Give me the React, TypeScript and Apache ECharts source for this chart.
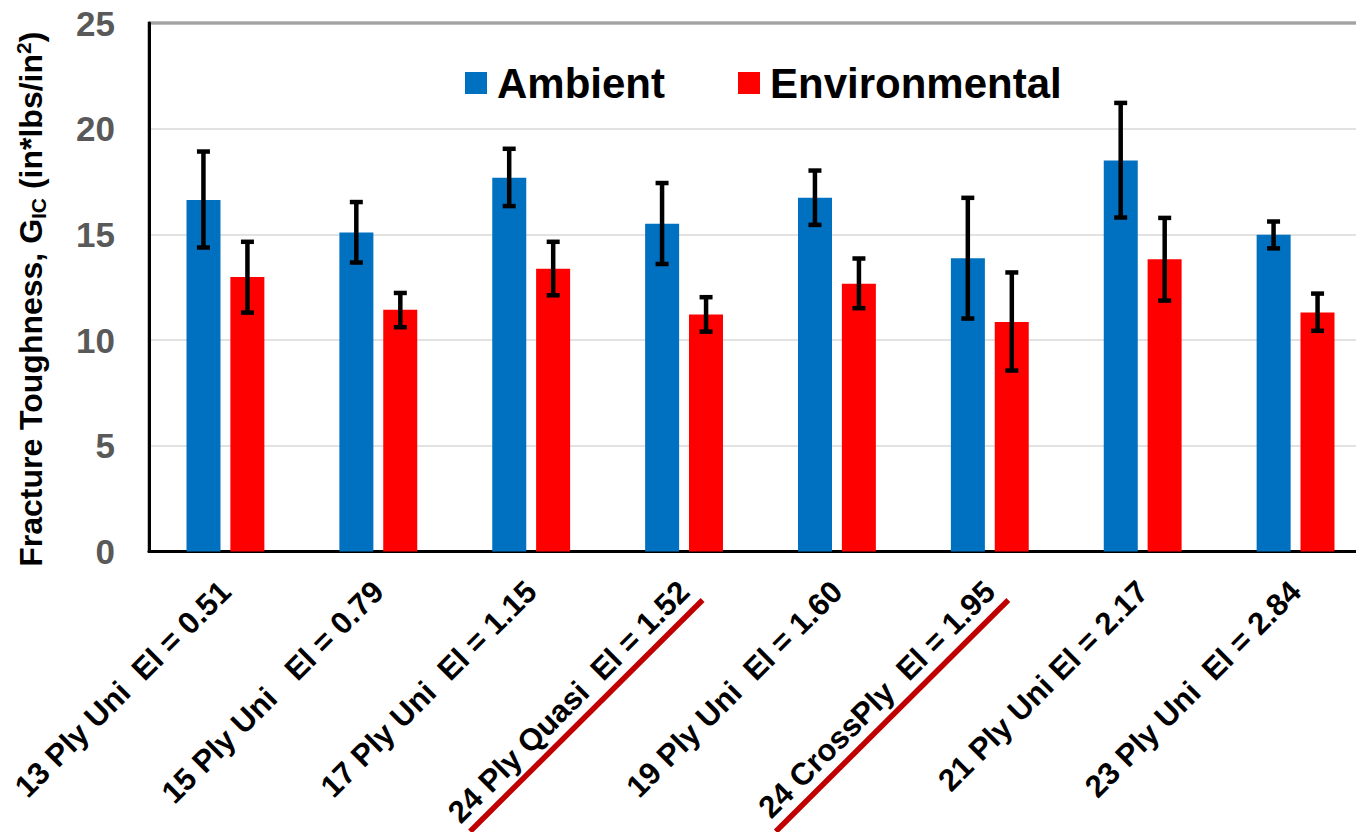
import React, { useEffect, useRef } from "react";
import * as echarts from "echarts";

const categories = [
  "13 Ply Uni  El = 0.51",
  "15 Ply Uni   El = 0.79",
  "17 Ply Uni  El = 1.15",
  "24 Ply Quasi  El = 1.52",
  "19 Ply Uni  El = 1.60",
  "24 CrossPly  El = 1.95",
  "21 Ply Uni El = 2.17",
  "23 Ply Uni  El = 2.84",
];
const ambient = [16.63, 15.09, 17.68, 15.5, 16.73, 13.87, 18.5, 14.98];
const ambientLow = [14.38, 13.67, 16.34, 13.6, 15.45, 11.02, 15.8, 14.34];
const ambientHigh = [18.92, 16.53, 19.05, 17.43, 18.02, 16.73, 21.22, 15.61];
const environmental = [12.98, 11.43, 13.38, 11.21, 12.67, 10.86, 13.82, 11.3];
const environmentalLow = [11.3, 10.61, 12.12, 10.4, 11.51, 8.56, 11.87, 10.44];
const environmentalHigh = [14.65, 12.23, 14.65, 12.03, 13.86, 13.2, 15.78, 12.2];
const yTicks = { min: 0, max: 25, interval: 5 };
const underlined = [3, 5];

const FONT = "Arial, 'Liberation Sans', Helvetica, sans-serif";

function errorSeries(name: string, low: number[], high: number[], offset: number) {
  return {
    type: "custom",
    name: name + " error",
    z: 10,
    silent: true,
    encode: { x: 0, y: [1, 2] },
    data: low.map((l, i) => [i, l, high[i]]),
    renderItem: (_params: any, api: any) => {
      const i = api.value(0);
      const lo = api.coord([i, api.value(1)]);
      const hi = api.coord([i, api.value(2)]);
      const cx = lo[0] + offset;
      const st = { stroke: "#000", lineWidth: 4.5 };
      return {
        type: "group",
        children: [
          { type: "line", shape: { x1: cx, y1: hi[1], x2: cx, y2: lo[1] }, style: st },
          { type: "line", shape: { x1: cx - 6.5, y1: hi[1], x2: cx + 6.5, y2: hi[1] }, style: st },
          { type: "line", shape: { x1: cx - 6.5, y1: lo[1], x2: cx + 6.5, y2: lo[1] }, style: st },
        ],
      };
    },
  };
}

export default function App() {
  const ref = useRef<HTMLDivElement>(null);
  useEffect(() => {
    if (!ref.current) return;
    const chart = echarts.init(ref.current, null, { renderer: "svg" });
    chart.setOption({
      animation: false,
      backgroundColor: "#fff",
      grid: {
        left: 149,
        right: 8,
        top: 23,
        bottom: 280.5,
        show: true,
        borderColor: "#000",
        borderWidth: 2.5,
        outerBoundsMode: "none",
        containLabel: false,
      },
      legend: {
        data: ["Ambient", "Environmental"],
        left: 465,
        top: 62,
        padding: 0,
        itemWidth: 22,
        itemHeight: 22,
        itemGap: 73,
        icon: "rect",
        textStyle: {
          fontSize: 42,
          fontWeight: "bold",
          color: "#000",
          fontFamily: FONT,
          padding: [0, 0, 0, 5],
        },
      },
      xAxis: {
        type: "category",
        data: categories,
        axisTick: { show: false },
        axisLine: { lineStyle: { color: "#000", width: 3 } },
        axisLabel: {
          interval: 0,
          rotate: 45,
          align: "right",
          verticalAlign: "middle",
          margin: 35,
          fontSize: 31,
          fontWeight: "bold",
          color: "#000",
          fontFamily: FONT,
        },
      },
      yAxis: {
        type: "value",
        min: yTicks.min,
        max: yTicks.max,
        interval: yTicks.interval,
        axisLine: { show: true, lineStyle: { color: "#000", width: 3 } },
        axisTick: { show: false },
        splitLine: { lineStyle: { color: "#d9d9d9", width: 1.5 } },
        axisLabel: {
          fontSize: 35,
          fontWeight: "bold",
          color: "#595959",
          fontFamily: FONT,
          margin: 34,
        },
        name: "{a|Fracture Toughness, G}{b|IC}{a| (in*lbs/in}{c|2}{a|)}",
        nameLocation: "middle",
        nameRotate: 90,
        nameGap: 100,
        nameTextStyle: {
          padding: [0, 24, 0, 0],
          rich: {
            a: { fontSize: 32, fontWeight: "bold", color: "#000", fontFamily: FONT, lineHeight: 36 },
            b: { fontSize: 21, fontWeight: "bold", color: "#000", fontFamily: FONT, lineHeight: 16, verticalAlign: "bottom" },
            c: { fontSize: 21, fontWeight: "bold", color: "#000", fontFamily: FONT, lineHeight: 24, verticalAlign: "top" },
          },
        },
      },
      series: [
        {
          type: "bar",
          name: "Ambient",
          data: ambient,
          barWidth: 34,
          barGap: "29%",
          itemStyle: { color: "#0070C0" },
        },
        {
          type: "bar",
          name: "Environmental",
          data: environmental,
          barWidth: 34,
          itemStyle: { color: "#FF0000" },
        },
        errorSeries("Ambient", ambientLow, ambientHigh, -22),
        errorSeries("Environmental", environmentalLow, environmentalHigh, 22),
      ],
    });
    const graphics = underlined.map((idx) => {
      const p = chart.convertToPixel({ xAxisIndex: 0, yAxisIndex: 0 }, [idx, 0]) as number[];
      return {
        type: "line",
        silent: true,
        shape: { x1: p[0] - 214, y1: p[1] + 280, x2: p[0] + 18.5, y2: p[1] + 48.5 },
        style: { stroke: "#C00000", lineWidth: 5.5 },
      };
    });
    chart.setOption({ graphic: graphics });
    return () => chart.dispose();
  }, []);
  return (
    <div style={{ position: "absolute", left: 0, top: 0, width: 1356, height: 832, overflow: "hidden", background: "#fff" }}>
      <div ref={ref} style={{ width: 1380, height: 832 }} />
    </div>
  );
}
